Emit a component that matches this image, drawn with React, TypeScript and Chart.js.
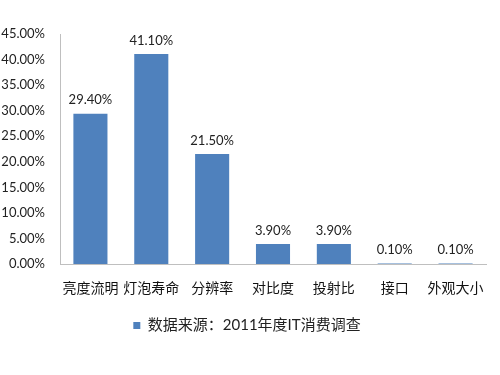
import React, { useEffect, useRef } from "react";
import { Chart, registerables } from "chart.js";

Chart.register(...registerables);

const categories = ["亮度流明", "灯泡寿命", "分辨率", "对比度", "投射比", "接口", "外观大小"];
const values = [29.4, 41.1, 21.5, 3.9, 3.9, 0.1, 0.1];
const seriesLabel = "数据来源：2011年度IT消费调查";
const yTicks = [0, 5, 10, 15, 20, 25, 30, 35, 40, 45];

const FONT = 'Lato, "Noto Sans CJK SC", sans-serif';

const dataLabelPlugin = {
  id: "dataLabels",
  afterDatasetsDraw(chart: any) {
    const ctx = chart.ctx;
    const meta = chart.getDatasetMeta(0);
    ctx.save();
    ctx.font = "13px " + FONT;
    ctx.fillStyle = "#222";
    ctx.textAlign = "center";
    ctx.textBaseline = "bottom";
    meta.data.forEach((bar: any, i: number) => {
      ctx.fillText(values[i].toFixed(2) + "%", bar.x, bar.y - 7);
    });
    ctx.restore();
  },
};

export default function App() {
  const ref = useRef<HTMLCanvasElement>(null);
  useEffect(() => {
    if (!ref.current) return;
    const chart = new Chart(ref.current, {
      type: "bar",
      data: {
        labels: categories,
        datasets: [
          {
            label: seriesLabel,
            data: values,
            backgroundColor: "#4F81BD",
            borderWidth: 0,
            categoryPercentage: 1,
            barPercentage: 0.56,
          },
        ],
      },
      options: {
        animation: false,
        responsive: false,
        maintainAspectRatio: false,
        layout: { padding: { top: 34, right: 6, left: 0, bottom: 32 } },
        plugins: {
          tooltip: { enabled: false },
          legend: {
            position: "bottom",
            labels: {
              boxWidth: 7,
              boxHeight: 7,
              color: "#222",
              font: { size: 15, family: FONT },
              padding: 10,
            },
          },
        },
        scales: {
          x: {
            grid: { display: false, drawTicks: false },
            border: { color: "#BFBFBF", width: 1 },
            ticks: { color: "#111", font: { size: 14, family: FONT }, padding: 16, maxRotation: 0, autoSkip: false },
            afterFit(scale: any) {
              scale.height = 44;
            },
          },
          y: {
            min: 0,
            max: 45,
            afterBuildTicks(scale: any) {
              scale.ticks = yTicks.map((v) => ({ value: v }));
            },
            grid: { display: false, drawTicks: false },
            border: { color: "#BFBFBF", width: 1 },
            ticks: {
              color: "#222",
              font: { size: 13, family: FONT },
              padding: 15,
              callback: (v: any) => Number(v).toFixed(2) + "%",
            },
            afterFit(scale: any) {
              scale.width = 60;
            },
          },
        },
      },
      plugins: [dataLabelPlugin],
    } as any);
    return () => chart.destroy();
  }, []);
  return (
    <div style={{ position: "fixed", left: 0, top: 0, width: 500, height: 375, background: "#fff" }}>
      <canvas ref={ref} width={500} height={375} />
    </div>
  );
}
